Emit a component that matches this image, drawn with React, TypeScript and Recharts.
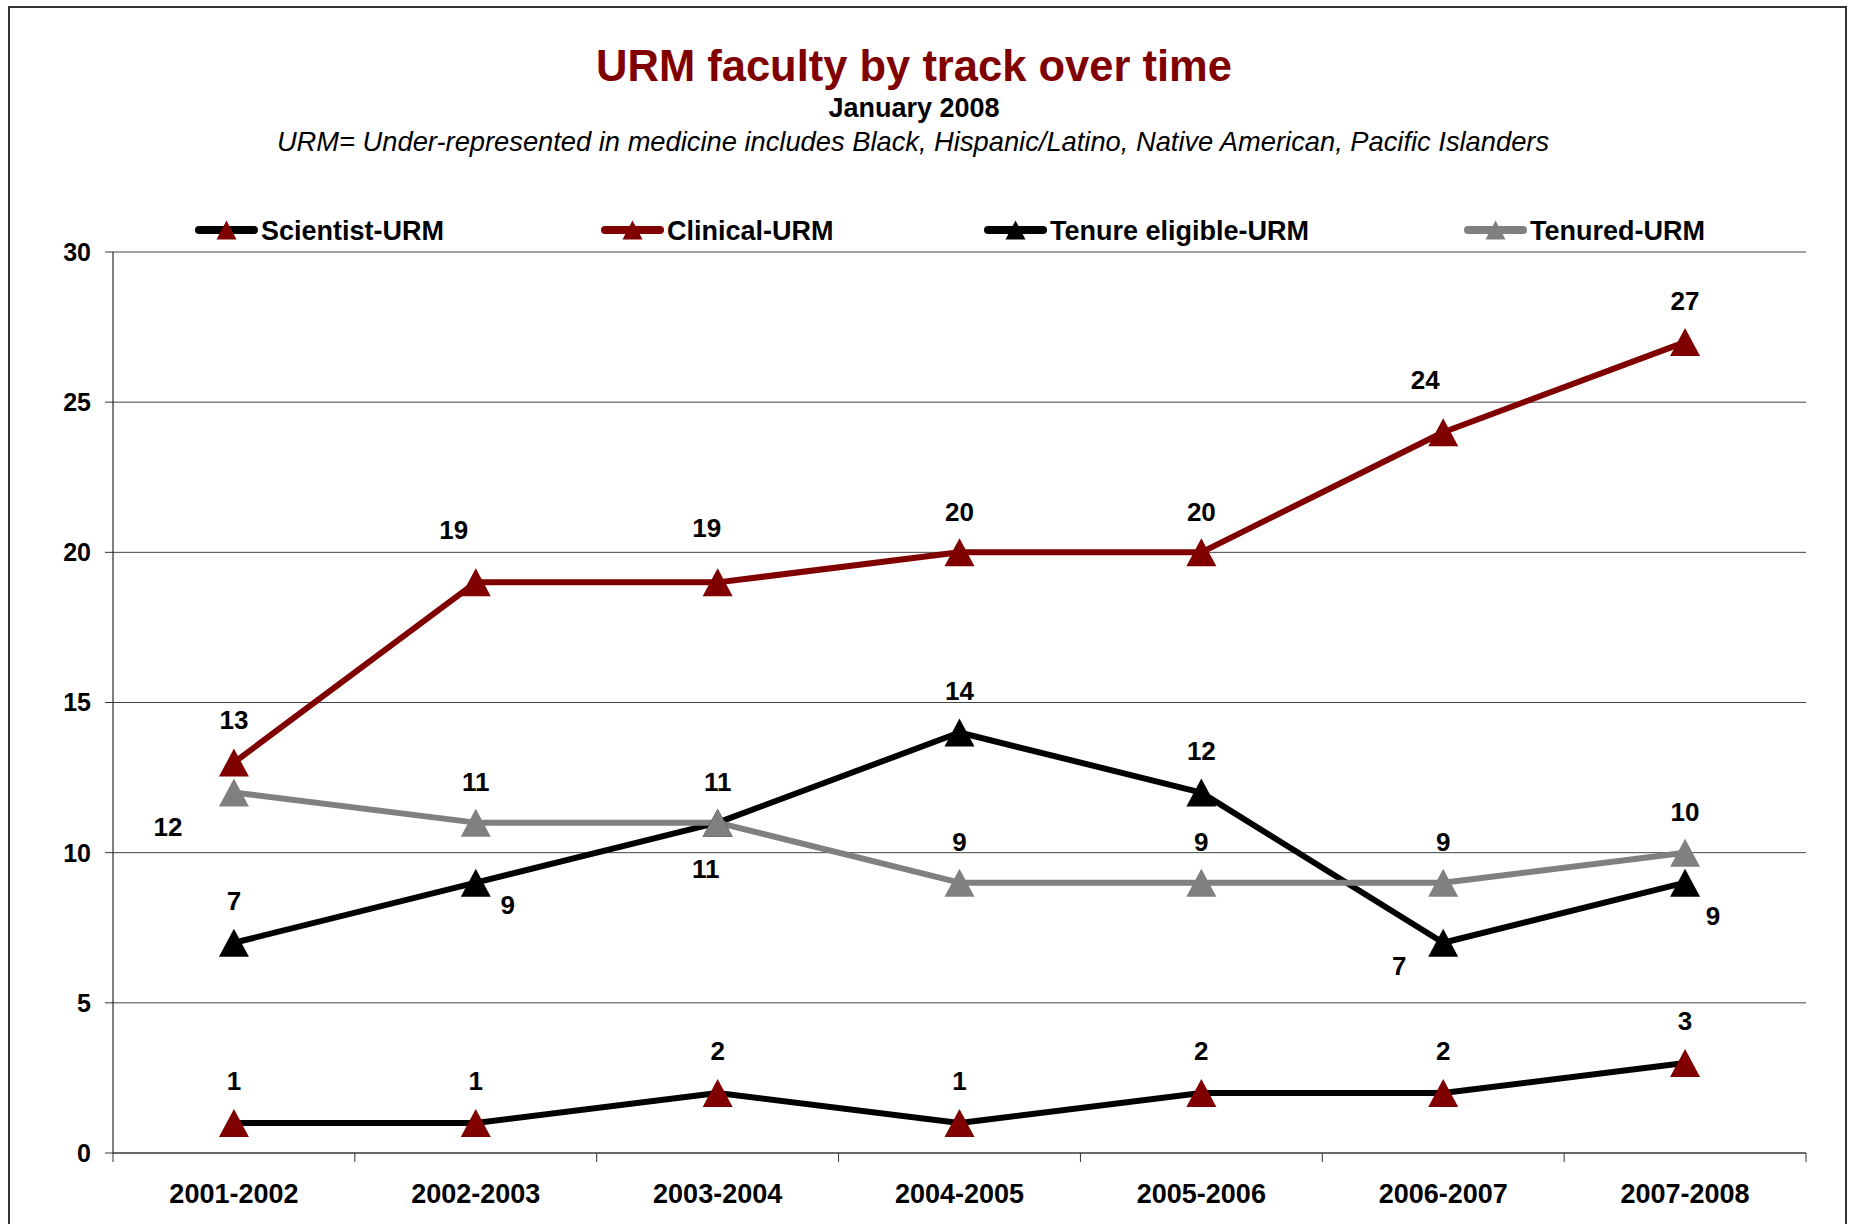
import React from 'react';
import { LineChart, Line, XAxis, YAxis, CartesianGrid, LabelList } from 'recharts';

// ---------- data ----------
const categories = ['2001-2002', '2002-2003', '2003-2004', '2004-2005', '2005-2006', '2006-2007', '2007-2008'];
const scientistURM = [1, 1, 2, 1, 2, 2, 3];
const clinicalURM = [13, 19, 19, 20, 20, 24, 27];
const tenureEligibleURM = [7, 9, 11, 14, 12, 7, 9];
const tenuredURM = [12, 11, 11, 9, 9, 9, 10];
const yTicks = [0, 5, 10, 15, 20, 25, 30];

const TITLE = 'URM faculty by track over time';
const SUBTITLE1 = 'January 2008';
const SUBTITLE2 = 'URM= Under-represented in medicine includes Black, Hispanic/Latino, Native American, Pacific Islanders';

// ---------- layout / style (kept apart from data) ----------
const W = 1849;
const H = 1224;
const PLOT_LEFT = 113;
const PLOT_RIGHT = 1806;
const PLOT_TOP = 252;
const PLOT_BOTTOM = 1153;
const Y_AXIS_W = 60;
const X_AXIS_H = 60;
const BAND = (PLOT_RIGHT - PLOT_LEFT) / categories.length;
const FONT = '"Liberation Sans", Arial, Helvetica, sans-serif';
const DARK_RED = '#800000';
const GRAY = '#808080';
const LEGEND_LEFTS = [195, 601, 984, 1464];

const UP = [0, -42];
const scientistLabelOffsets = [UP, UP, UP, UP, UP, UP, UP];
const clinicalLabelOffsets = [[0, -43], [-22, -53], [-11, -55], [0, -41], [0, -41], [-18, -53], [0, -41]];
const tenureEligibleLabelOffsets = [[0, -42], [32, 22], [-12, 46], [0, -42], [0, -42], [-44, 23], [28, 33]];
const tenuredLabelOffsets = [[-66, 34], [0, -41], [0, -41], [0, -41], [0, -41], [0, -41], [0, -41]];

const data = categories.map((period, i) => ({
  period,
  scientist: scientistURM[i],
  clinical: clinicalURM[i],
  tenureEligible: tenureEligibleURM[i],
  tenured: tenuredURM[i],
}));

const series = [
  { key: 'scientist', name: 'Scientist-URM', line: '#000000', marker: DARK_RED, offsets: scientistLabelOffsets },
  { key: 'clinical', name: 'Clinical-URM', line: DARK_RED, marker: DARK_RED, offsets: clinicalLabelOffsets },
  { key: 'tenureEligible', name: 'Tenure eligible-URM', line: '#000000', marker: '#000000', offsets: tenureEligibleLabelOffsets },
  { key: 'tenured', name: 'Tenured-URM', line: GRAY, marker: GRAY, offsets: tenuredLabelOffsets },
];

const triPath = (cx: number, cy: number, w: number, h: number) =>
  `M${cx},${cy - h / 2} L${cx + w / 2},${cy + h / 2} L${cx - w / 2},${cy + h / 2} Z`;

const makeDot = (color: string) => (props: any) => {
  const { cx, cy, index } = props;
  if (cx == null || cy == null) return <g key={`d-${index}`} />;
  return <path key={`d-${index}`} d={triPath(cx, cy, 30, 28)} fill={color} />;
};

const makeLabel = (offsets: number[][]) => (props: any) => {
  const { x, y, value, index } = props;
  const off = offsets[index] || [0, -42];
  return (
    <text
      x={x + off[0]}
      y={y + off[1]}
      dy="0.36em"
      textAnchor="middle"
      fontFamily={FONT}
      fontWeight="bold"
      fontSize={26}
      fill="#000"
    >
      {value}
    </text>
  );
};

const XTick = (props: any) => {
  const { x, payload, index } = props;
  const half = BAND / 2;
  return (
    <g>
      <line x1={x - half} x2={x - half} y1={PLOT_BOTTOM} y2={PLOT_BOTTOM + 9} stroke="#333" strokeWidth={1} />
      {index === categories.length - 1 && (
        <line x1={x + half} x2={x + half} y1={PLOT_BOTTOM} y2={PLOT_BOTTOM + 9} stroke="#333" strokeWidth={1} />
      )}
      <text x={x} y={1203} textAnchor="middle" fontFamily={FONT} fontWeight="bold" fontSize={27} fill="#000">
        {payload.value}
      </text>
    </g>
  );
};

const LegendBox = () => (
  <div
    style={{
      position: 'absolute',
      left: 0,
      top: 216,
      width: W,
      height: 30,
      fontFamily: FONT,
      fontWeight: 'bold',
      fontSize: 27,
      lineHeight: '30px',
      color: '#000',
      whiteSpace: 'nowrap',
    }}
  >
    {series.map((s, i) => (
      <div key={s.key} style={{ position: 'absolute', left: LEGEND_LEFTS[i], top: 0, display: 'flex', alignItems: 'center' }}>
        <svg width={63} height={30} style={{ display: 'block' }}>
          <line x1={4} x2={59} y1={14} y2={14} stroke={s.line} strokeWidth={8} strokeLinecap="round" />
          <path d={triPath(31.5, 14, 20, 19)} fill={s.marker} />
        </svg>
        <span style={{ marginLeft: 3 }}>{s.name}</span>
      </div>
    ))}
  </div>
);

export default function App() {
  return (
    <div style={{ position: 'relative', width: W, height: H, overflow: 'hidden', background: '#fff' }}>
      <style>{`html,body{margin:0;padding:0;overflow:hidden;background:#fff}`}</style>
      <div
        style={{
          position: 'absolute',
          left: 8,
          top: 6,
          width: 1839,
          height: 1240,
          border: '2px solid #333',
          borderBottom: 'none',
          boxSizing: 'border-box',
        }}
      />
      <div
        style={{
          position: 'absolute', left: 0, top: 45, width: 1828, textAlign: 'center',
          fontFamily: FONT, fontWeight: 'bold', fontSize: 43.5, lineHeight: '43px', color: DARK_RED,
        }}
      >
        {TITLE}
      </div>
      <div
        style={{
          position: 'absolute', left: 0, top: 95, width: 1828, textAlign: 'center',
          fontFamily: FONT, fontWeight: 'bold', fontSize: 27, lineHeight: '27px', color: '#000',
        }}
      >
        {SUBTITLE1}
      </div>
      <div
        style={{
          position: 'absolute', left: 0, top: 128, width: 1826, textAlign: 'center',
          fontFamily: FONT, fontStyle: 'italic', fontSize: 27.3, lineHeight: '27px', color: '#000',
        }}
      >
        {SUBTITLE2}
      </div>
      <LegendBox />
      <div style={{ position: 'absolute', left: 0, top: 0 }}>
        <LineChart
          width={W}
          height={H}
          data={data}
          margin={{
            top: PLOT_TOP,
            right: W - PLOT_RIGHT,
            bottom: H - PLOT_BOTTOM - X_AXIS_H,
            left: PLOT_LEFT - Y_AXIS_W,
          }}
        >
          <CartesianGrid vertical={false} stroke="#444" strokeWidth={1} />
          <XAxis
            dataKey="period"
            height={X_AXIS_H}
            interval={0}
            padding={{ left: BAND / 2, right: BAND / 2 }}
            tickLine={false}
            axisLine={{ stroke: '#333', strokeWidth: 1 }}
            tick={<XTick />}
          />
          <YAxis
            width={Y_AXIS_W}
            domain={[0, 30]}
            ticks={yTicks}
            interval={0}
            tickSize={8}
            tickMargin={14}
            tickLine={{ stroke: '#333', strokeWidth: 1 }}
            axisLine={{ stroke: '#000', strokeWidth: 1 }}
            tick={{ fontFamily: FONT, fontWeight: 'bold', fontSize: 25, fill: '#000' }}
          />
          {series.map((s) => (
            <Line
              key={s.key}
              type="linear"
              dataKey={s.key}
              name={s.name}
              stroke={s.line}
              strokeWidth={6}
              strokeLinejoin="round"
              dot={makeDot(s.marker)}
              activeDot={false}
              isAnimationActive={false}
            >
              <LabelList dataKey={s.key} content={makeLabel(s.offsets)} />
            </Line>
          ))}
        </LineChart>
      </div>
    </div>
  );
}
